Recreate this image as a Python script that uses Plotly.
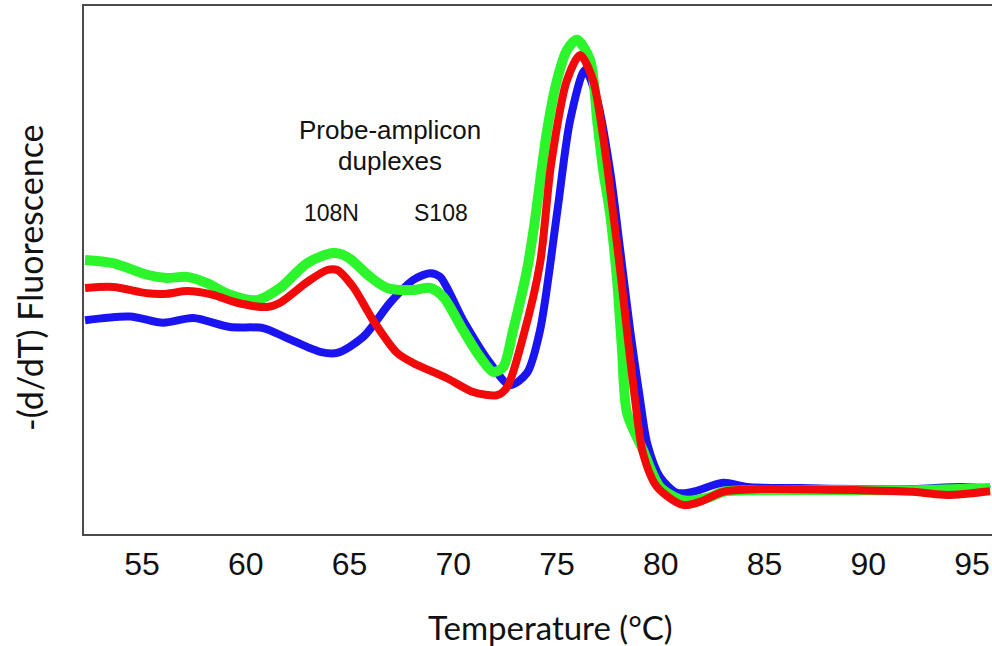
import plotly.graph_objects as go

# Temperature (°C) and -(d/dT) fluorescence (arbitrary units, 0-100)
blue_t = [52.25, 54.42, 56.01, 57.46, 59.24, 60.83, 61.99, 63.58, 64.40, 65.65, 66.95, 68.06, 68.88,
          69.36, 70.47, 71.77, 72.73, 73.55, 74.18, 75.00, 75.63, 76.35, 76.93, 77.55, 78.04, 78.52,
          79.00, 79.34, 79.96, 80.78, 81.55, 83.00, 84.16, 86.71, 89.60, 92.16, 94.57, 95.87]
blue_v = [40.5, 41.2, 40.0, 40.9, 39.2, 39.0, 37.1, 34.5, 34.3, 37.3, 43.8, 48.1, 49.4,
          48.7, 40.5, 32.4, 28.2, 30.5, 38.6, 60.8, 78.4, 87.9, 82.2, 68.9, 53.8, 38.6,
          25.4, 17.2, 10.8, 7.8, 8.0, 9.7, 8.9, 8.7, 8.5, 8.5, 8.9, 8.5]

green_t = [52.25, 53.60, 55.24, 56.20, 57.17, 58.13, 59.24, 60.54, 61.65, 62.95, 64.20, 64.88, 65.99,
           66.81, 68.06, 68.88, 69.51, 70.47, 71.29, 71.92, 72.40, 72.88, 73.55, 73.90, 74.52, 75.00,
           75.48, 75.96, 76.59, 76.93, 77.22, 77.55, 77.89, 78.13, 78.37, 79.14, 79.96, 81.07, 82.37,
           83.00, 84.78, 89.60, 92.16, 95.87]
green_v = [51.9, 51.3, 49.1, 48.5, 48.7, 47.5, 45.3, 44.3, 46.6, 51.3, 53.2, 52.5, 48.7,
           46.6, 46.2, 46.6, 44.9, 38.6, 33.5, 30.7, 31.6, 38.6, 50.0, 58.5, 76.5, 86.0,
           91.7, 93.6, 89.8, 78.4, 68.9, 60.8, 48.1, 34.8, 22.9, 15.9, 8.9, 6.4, 7.0,
           8.0, 8.3, 8.3, 8.3, 8.7]

red_t = [52.25, 53.60, 55.24, 56.20, 57.17, 58.42, 59.58, 61.02, 61.65, 62.95, 63.92, 64.40, 65.17,
         66.13, 67.29, 68.06, 69.70, 70.95, 72.11, 72.59, 73.36, 74.18, 74.71, 75.48, 76.11, 76.73,
         77.22, 77.70, 78.04, 78.42, 78.76, 79.14, 79.82, 81.07, 81.89, 83.00, 84.78, 89.60, 92.16,
         93.80, 95.87]
red_v = [46.6, 46.8, 45.6, 45.5, 46.0, 45.3, 43.8, 43.0, 43.8, 47.7, 50.0, 50.0, 46.8,
         40.5, 34.3, 32.4, 29.5, 26.9, 26.3, 27.8, 37.3, 51.3, 70.0, 86.0, 90.7, 86.0,
         75.2, 60.8, 50.0, 36.7, 25.4, 15.3, 8.9, 5.5, 6.1, 8.0, 8.5, 8.3, 8.0,
         7.4, 8.1]

x_ticks = [55, 60, 65, 70, 75, 80, 85, 90, 95]

fig = go.Figure()
fig.add_trace(go.Scatter(x=blue_t, y=blue_v, mode="lines",
                         line=dict(color="#1a14f0", width=8, shape="spline", smoothing=0.8)))
fig.add_trace(go.Scatter(x=green_t, y=green_v, mode="lines",
                         line=dict(color="#2cf52c", width=10, shape="spline", smoothing=0.8)))
fig.add_trace(go.Scatter(x=red_t, y=red_v, mode="lines",
                         line=dict(color="#f00a0a", width=8, shape="spline", smoothing=0.8)))

ann_font = dict(family="Liberation Sans, Arial", color="#111111")
fig.add_annotation(x=66.95, y=76.6, xref="x", yref="y", text="Probe-amplicon", showarrow=False,
                   xanchor="center", yanchor="middle", font=dict(size=26, **ann_font))
fig.add_annotation(x=66.95, y=70.6, xref="x", yref="y", text="duplexes", showarrow=False,
                   xanchor="center", yanchor="middle", font=dict(size=26, **ann_font))
fig.add_annotation(x=64.11, y=60.8, xref="x", yref="y", text="108N", showarrow=False,
                   xanchor="center", yanchor="middle", font=dict(size=23, **ann_font))
fig.add_annotation(x=69.41, y=60.8, xref="x", yref="y", text="S108", showarrow=False,
                   xanchor="center", yanchor="middle", font=dict(size=23, **ann_font))

title_font = dict(family="Lato, Open Sans", size=33, color="#111111")
fig.add_annotation(x=0.514, y=-0.176, xref="paper", yref="paper", text="Temperature (°C)",
                   showarrow=False, xanchor="center", yanchor="middle", font=title_font)
fig.add_annotation(x=-0.0595, y=0.485, xref="paper", yref="paper", text="-(d/dT) Fluorescence",
                   showarrow=False, textangle=-90, xanchor="center", yanchor="middle",
                   font=dict(family="Lato, Open Sans", size=34, color="#111111"))

fig.update_layout(
    width=992, height=646,
    margin=dict(l=84, r=0, t=6, b=112),
    paper_bgcolor="white", plot_bgcolor="white",
    showlegend=False,
    xaxis=dict(range=[52.2, 95.96], tickvals=x_ticks, ticktext=[str(v) for v in x_ticks],
               showgrid=False, zeroline=False, showline=True, mirror=True,
               linecolor="#4a4a4a", linewidth=2, ticks="", ticklabelstandoff=1,
               tickfont=dict(family="Liberation Sans, Arial", size=32, color="#111111")),
    yaxis=dict(range=[0, 100], showticklabels=False, showgrid=False, zeroline=False,
               showline=True, linecolor="#4a4a4a", linewidth=2, ticks=""),
)

fig.write_html("out.html")
